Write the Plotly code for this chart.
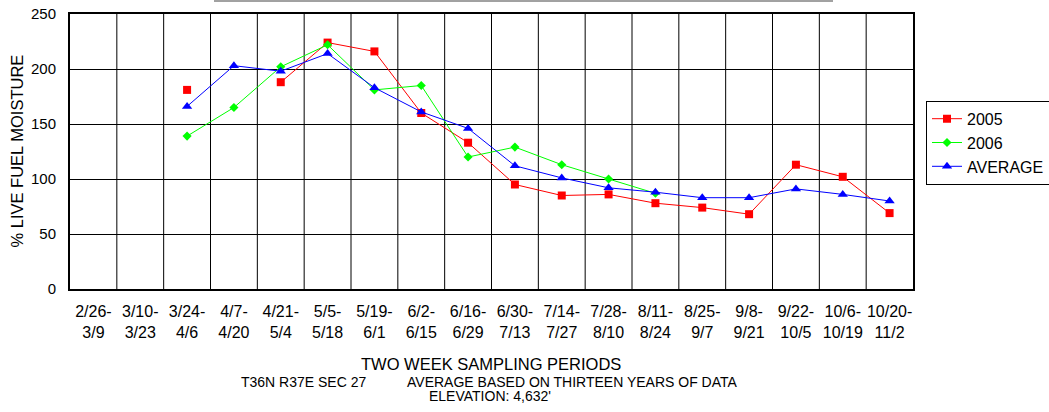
import plotly.graph_objects as go

periods = ["2/26-<br>3/9", "3/10-<br>3/23", "3/24-<br>4/6", "4/7-<br>4/20", "4/21-<br>5/4",
           "5/5-<br>5/18", "5/19-<br>6/1", "6/2-<br>6/15", "6/16-<br>6/29", "6/30-<br>7/13",
           "7/14-<br>7/27", "7/28-<br>8/10", "8/11-<br>8/24", "8/25-<br>9/7", "9/8-<br>9/21",
           "9/22-<br>10/5", "10/6-<br>10/19", "10/20-<br>11/2"]
y2005 = [None, None, 181, None, 188, 224, 216, 160, 133, 95, 85, 86, 78, 74, 68, 113, 102, 69]
y2006 = [None, None, 139, 165, 202, 222, 181, 185, 120, 129, 113, 100, 87, None, None, None, None, None]
yavg = [None, None, 166, 203, 198, 214, 183, 161, 146, 112, 101, 92, 88, 83, 83, 91, 86, 80]
yticks = [0, 50, 100, 150, 200, 250]

FONT = "Liberation Sans, Arial, sans-serif"
W, H = 1049, 412
# plot area in pixels: x 70..913, y 14..289
L, R, T, B = 70, 1049 - 913, 14, 412 - 289
PW, PH = W - L - R, H - T - B


def px(xs):
    return (xs - L) / PW


def py(ys):
    return (H - B - ys) / PH


x = list(range(len(periods)))
fig = go.Figure()
fig.add_trace(go.Scatter(x=x, y=y2005, name="2005", mode="lines+markers",
                         line=dict(color="#ff0000", width=1),
                         marker=dict(symbol="square", size=8, color="#ff0000"),
                         connectgaps=False))
fig.add_trace(go.Scatter(x=x, y=y2006, name="2006", mode="lines+markers",
                         line=dict(color="#00ff00", width=1),
                         marker=dict(symbol="diamond", size=7, color="#00ff00")))
fig.add_trace(go.Scatter(x=x, y=yavg, name="AVERAGE", mode="lines+markers",
                         line=dict(color="#0000ff", width=1),
                         marker=dict(symbol="triangle-up", size=9, color="#0000ff")))

fig.update_layout(
    width=W, height=H,
    margin=dict(l=L, r=R, t=T, b=B, autoexpand=False),
    paper_bgcolor="white", plot_bgcolor="white",
    font=dict(family=FONT, size=15, color="black"),
    showlegend=True,
    legend=dict(x=px(926), y=py(142.8), xanchor="left", yanchor="middle",
                bordercolor="black", borderwidth=1, font=dict(size=16, family=FONT),
                itemwidth=30, bgcolor="white"),
    xaxis=dict(range=[-0.5, 17.5], tickmode="array", tickvals=x, ticktext=periods,
               showgrid=False, zeroline=False, ticks="", showline=True,
               linecolor="black", linewidth=2, mirror=True, automargin=False,
               ticklabelstandoff=7, tickfont=dict(family=FONT, size=16)),
    yaxis=dict(range=[0, 250], tickvals=yticks, showgrid=True, gridcolor="black",
               gridwidth=1, zeroline=False, showline=True, linecolor="black",
               linewidth=2, mirror=True, ticks="", automargin=False,
               ticklabelstandoff=9, tickfont=dict(family=FONT, size=15)),
)

# vertical separators between categories
for i in range(1, len(periods)):
    fig.add_shape(type="line", xref="x", yref="paper", x0=i - 0.5, x1=i - 0.5, y0=0, y1=1,
                  line=dict(color="black", width=1), layer="below")

# underline at top
fig.add_shape(type="line", xref="paper", yref="paper", x0=px(214), x1=px(833),
              y0=py(1), y1=py(1), line=dict(color="#444444", width=1))

fig.add_annotation(text="% LIVE FUEL MOISTURE", xref="paper", yref="paper",
                   x=px(16), y=py(151.5), textangle=-90, showarrow=False,
                   xanchor="center", yanchor="middle", font=dict(size=16.5, family=FONT))
fig.add_annotation(text="TWO WEEK SAMPLING PERIODS", xref="paper", yref="paper",
                   x=px(491), y=py(363.5), xanchor="center", yanchor="middle", showarrow=False,
                   font=dict(size=16.5, family=FONT))
fig.add_annotation(text="T36N R37E SEC 27", xref="paper", yref="paper",
                   x=px(303.7), y=py(382), xanchor="center", yanchor="middle", showarrow=False,
                   font=dict(size=14, family=FONT))
fig.add_annotation(text="AVERAGE BASED ON THIRTEEN YEARS OF DATA", xref="paper", yref="paper",
                   x=px(572), y=py(382), xanchor="center", yanchor="middle", showarrow=False,
                   font=dict(size=14, family=FONT))
fig.add_annotation(text="ELEVATION: 4,632'", xref="paper", yref="paper",
                   x=px(490), y=py(396), xanchor="center", yanchor="middle", showarrow=False,
                   font=dict(size=14, family=FONT))

fig.write_html("out.html", config={"displayModeBar": False},
               post_script="document.body.style.margin='0px';document.body.style.overflow='hidden';")
